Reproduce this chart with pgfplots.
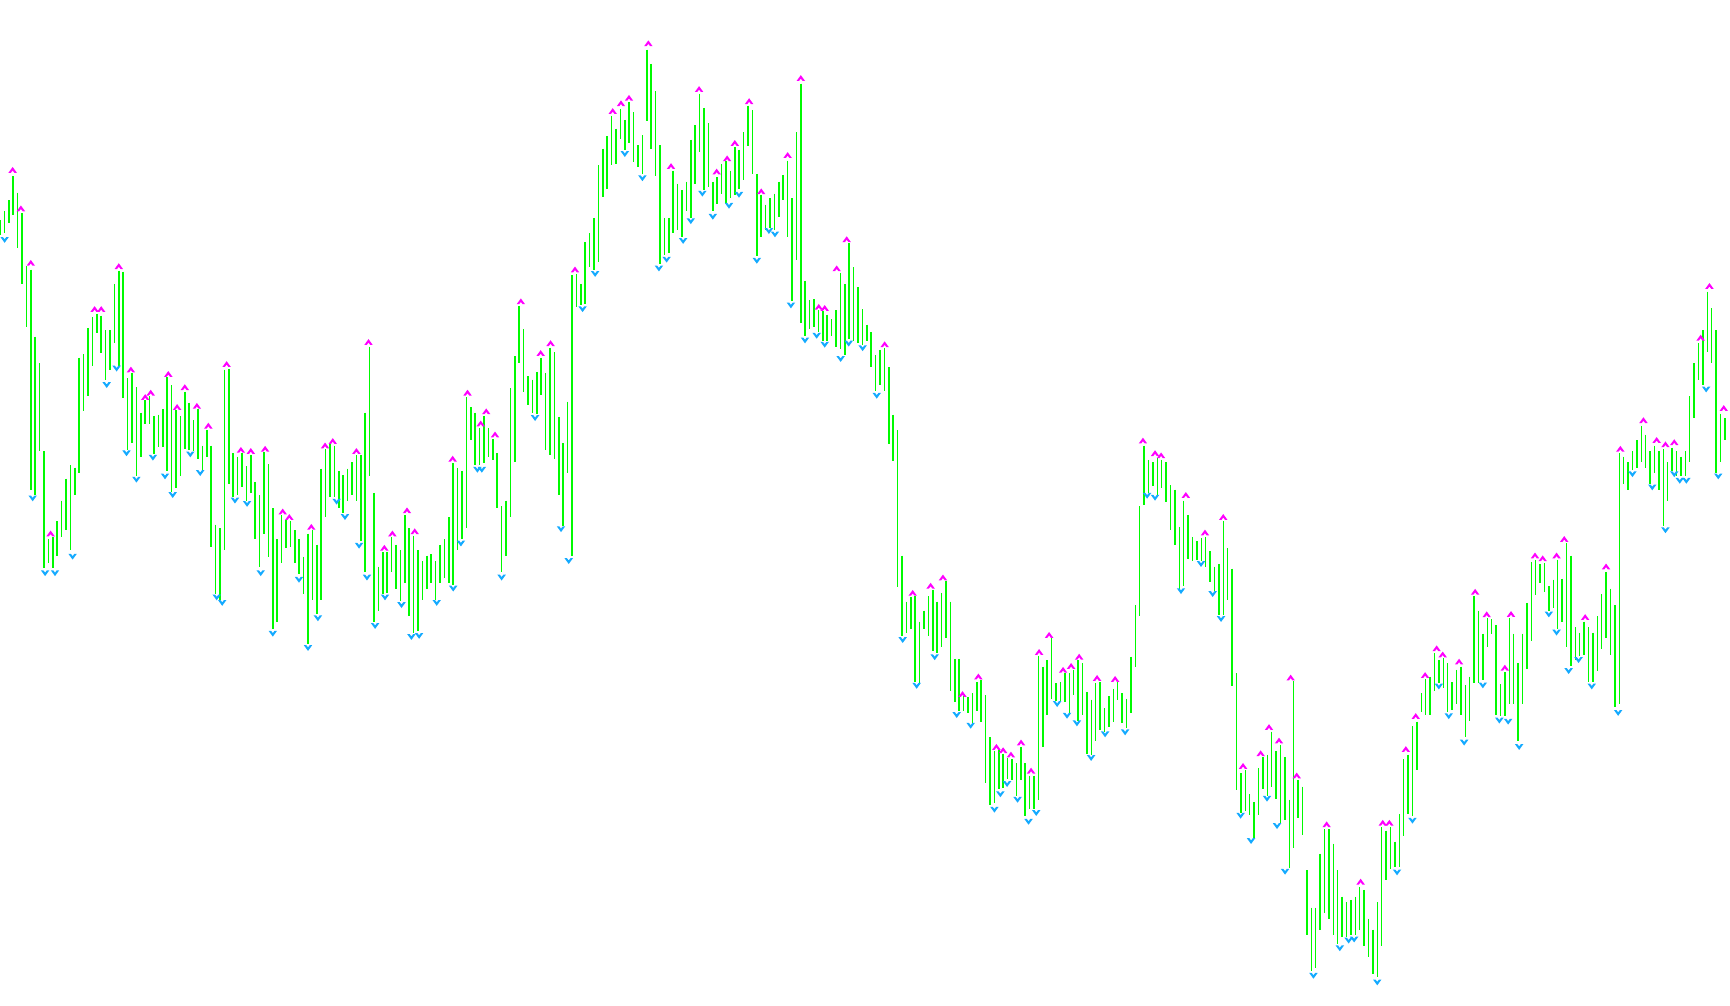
\documentclass[border=0pt]{standalone}
\usepackage{pgfplots}
\usepackage{pgfplotstable}
\pgfplotsset{compat=1.18}
\definecolor{barg}{RGB}{0,250,0}
\definecolor{fm}{RGB}{255,0,255}
\definecolor{fb}{RGB}{20,170,255}
\pgfdeclareplotmark{fup}{%
  \pgfpathmoveto{\pgfpoint{-1.2pt}{-0.8pt}}%
  \pgfpathlineto{\pgfpoint{0pt}{0.85pt}}%
  \pgfpathlineto{\pgfpoint{1.2pt}{-0.8pt}}%
  \pgfpathlineto{\pgfpoint{0.5pt}{-0.8pt}}%
  \pgfpathlineto{\pgfpoint{0pt}{-0.15pt}}%
  \pgfpathlineto{\pgfpoint{-0.5pt}{-0.8pt}}%
  \pgfpathclose\pgfusepathqfill}
\pgfdeclareplotmark{fdn}{%
  \pgfpathmoveto{\pgfpoint{-1.2pt}{0.8pt}}%
  \pgfpathlineto{\pgfpoint{0pt}{-0.85pt}}%
  \pgfpathlineto{\pgfpoint{1.2pt}{0.8pt}}%
  \pgfpathlineto{\pgfpoint{0.5pt}{0.8pt}}%
  \pgfpathlineto{\pgfpoint{0pt}{0.15pt}}%
  \pgfpathlineto{\pgfpoint{-0.5pt}{0.8pt}}%
  \pgfpathclose\pgfusepathqfill}
\pgfplotstableread[row sep=\\]{
h l\\
200 214\\192 212\\182 203\\160 195\\175 225\\194 258\\242 297\\245 445\\306 450\\330 410\\
410 516\\490 512\\488 516\\474 505\\455 488\\435 482\\423 500\\425 450\\325 430\\322 374\\
298 360\\288 333\\285 303\\287 321\\300 345\\300 336\\258 312\\246 333\\247 362\\344 409\\
339 403\\352 433\\375 415\\364 385\\360 385\\378 413\\377 406\\372 406\\343 428\\350 447\\
373 444\\378 433\\356 408\\366 409\\382 410\\372 417\\405 427\\391 415\\405 497\\477 540\\
480 545\\336 500\\335 440\\412 452\\415 450\\412 443\\424 455\\414 448\\438 490\\450 515\\
411 485\\422 506\\462 572\\490 565\\468 512\\473 498\\474 497\\482 512\\490 522\\506 540\\
485 585\\482 545\\495 558\\426 545\\408 470\\404 452\\405 452\\428 462\\432 466\\426 455\\
420 450\\414 455\\414 492\\375 520\\315 433\\448 565\\515 555\\502 540\\502 539\\488 520\\
495 535\\500 546\\468 530\\480 560\\487 575\\500 574\\510 545\\505 535\\504 530\\510 545\\
495 530\\490 525\\470 530\\421 532\\425 500\\428 490\\361 480\\370 400\\375 423\\389 423\\
378 421\\389 415\\399 418\\412 462\\460 520\\455 505\\353 470\\324 420\\278 330\\299 356\\
342 368\\345 375\\338 376\\325 359\\339 409\\316 414\\320 417\\379 450\\403 478\\365 430\\
250 505\\249 279\\258 277\\220 276\\212 243\\198 245\\150 238\\135 179\\124 172\\105 150\\
117 149\\99 126\\109 136\\93 130\\102 147\\132 152\\123 158\\45 110\\58 135\\83 160\\
132 240\\198 232\\198 230\\155 212\\167 209\\173 215\\165 192\\127 198\\114 167\\85 138\\
98 173\\112 170\\165 192\\161 185\\149 176\\146 185\\155 180\\134 177\\136 172\\120 164\\
96 133\\100 158\\158 233\\177 215\\186 209\\180 207\\176 209\\165 197\\159 182\\146 215\\
180 274\\120 236\\76 294\\255 305\\273 299\\272 297\\282 302\\283 310\\286 310\\290 305\\
282 315\\248 317\\258 323\\221 308\\243 310\\261 312\\281 314\\295 310\\302 334\\323 355\\
318 350\\316 355\\334 404\\377 419\\391 534\\505 578\\547 575\\543 572\\542 620\\565 621\\
555 572\\542 578\\536 592\\547 594\\539 588\\528 580\\547 628\\599 638\\599 646\\633 646\\
634 648\\630 657\\620 646\\618 656\\632 712\\670 732\\683 730\\682 717\\685 716\\689 708\\
690 709\\694 724\\679 709\\694 742\\705 735\\705 735\\596 727\\606 679\\600 650\\580 635\\
621 637\\620 638\\612 638\\612 648\\609 632\\600 655\\603 650\\629 685\\636 686\\621 674\\
620 664\\644 665\\633 661\\626 656\\620 636\\630 657\\635 662\\597 648\\550 606\\460 560\\
405 459\\418 448\\420 442\\416 450\\418 444\\420 456\\441 482\\445 495\\479 535\\455 533\\
468 508\\488 510\\492 509\\489 510\\488 515\\501 529\\515 537\\513 559\\474 559\\498 545\\
517 624\\612 718\\703 739\\700 737\\722 741\\729 762\\698 741\\688 717\\686 724\\665 715\\
683 726\\677 748\\688 745\\727 789\\619 771\\709 744\\715 759\\791 850\\825 883\\825 880\\
776 845\\754 830\\754 835\\767 850\\791 858\\815 852\\820 852\\818 850\\815 850\\806 845\\
809 860\\835 870\\845 885\\820 888\\752 860\\755 800\\752 790\\765 788\\740 788\\690 760\\
686 740\\660 742\\656 700\\630 647\\617 650\\615 650\\594 628\\600 621\\598 625\\603 647\\
620 645\\609 640\\606 650\\623 670\\615 655\\542 621\\555 621\\576 618\\562 588\\563 576\\
568 650\\622 651\\611 651\\562 640\\576 640\\603 674\\576 640\\548 608\\511 583\\509 541\\
513 530\\512 538\\533 555\\527 553\\509 572\\526 565\\494 588\\505 605\\570 600\\575 596\\
565 595\\570 620\\575 620\\560 610\\540 590\\520 580\\535 595\\550 643\\412 640\\415 440\\
420 445\\410 427\\400 425\\387 420\\395 425\\410 440\\405 430\\410 445\\408 478\\420 455\\
407 428\\410 433\\415 433\\410 433\\360 420\\330 380\\312 345\\300 350\\265 320\\280 330\\
300 430\\376 420\\380 400\\
}\bars
\begin{document}
\begin{tikzpicture}
\fill[white] (0,0) rectangle (17.3cm,10.05cm);
\begin{axis}[at={(0,0)}, anchor=south west,
  width=17.3cm, height=10.05cm, scale only axis,
  xmin=0, xmax=1572.7, ymin=0, ymax=913.6, y dir=reverse,
  hide axis, clip=false]
\addplot[draw=none, mark=none,
  error bars/.cd, y dir=plus, y explicit, error mark=none,
  error bar style={draw=barg, solid, line width=0.42pt}]
  table[x expr=\coordindex*4, y=h, y error expr=\thisrow{l}-\thisrow{h}] {\bars};
\addplot[only marks, mark=fup, color=fm, fill=fm] coordinates {
(11.5,154.5) (19,189.5) (28,239) (46,485) (86,281) (92,281) (108,242) (119,336)
(132,361) (137,357) (153,340) (161,370) (168,352) (179,369) (189.4,387) (206,331)
(219,409) (228,410) (241,408) (257,465) (263,470) (283,479) (295.5,405) (302.5,401)
(324,410) (335,311) (349.4,498) (356.7,485) (370,464) (377,483) (411.5,417) (425,357)
(437,385) (442,374) (450,395) (473.5,274) (491.5,321) (500.5,312) (522.7,245)
(557,101) (564.5,94) (571.8,89) (589.4,39.4) (610,151) (635.5,81) (651.5,156)
(661,144) (668,130) (681,92) (692,174) (716,141) (728,71) (744.3,279) (749.7,280)
(760.6,244) (769.7,217.5) (804.2,313) (829.7,539) (846,532.5) (857.2,525) (875,631)
(889.4,615) (905.8,679) (911.9,682) (919,686) (928.2,675) (937.3,700.6) (944.6,592.7)
(953.7,577.2) (966.4,609) (973.7,605.4) (981,597) (997.3,616.3) (1013.7,617.2)
(1039,400.6) (1050,412) (1055.5,414) (1078,450) (1095.4,484.2) (1112,470)
(1130,696.3) (1146,684.8) (1153.6,661) (1162.7,673.3) (1173.3,616) (1178.8,705)
(1206,749.4) (1236.9,801.5) (1257,748) (1263,748) (1278,681) (1287,651)
(1295.5,613.7) (1306,589.4) (1311.5,595) (1326.4,601.5) (1341,538) (1351.5,558.5)
(1368,607) (1373.6,558.2) (1395.4,505) (1402.4,507.6) (1415,505) (1422,490)
(1441,561) (1460,515) (1473,408) (1494,382) (1506,400) (1514,404) (1522,402)
(1546,307) (1554,260) (1567,371)
};
\addplot[only marks, mark=fdn, color=fb, fill=fb] coordinates {
(4.2,218) (29.7,453) (41,521) (50,521) (66,506) (97,350) (106,335) (115,412)
(124,436) (139,416) (150,433) (157,450) (173,413) (182,430) (197,543) (202,548)
(213.6,455) (224.6,458) (237,521) (248,576) (271.8,527) (280,589) (289,562)
(306,456) (313.6,470) (326.4,496) (333.6,525) (341,569) (350,543) (365,550)
(374,579) (381,578) (397,548) (412,535) (419,494) (434,427) (438,427) (456,525)
(486.4,380) (510,481) (517,510) (529.6,281) (541,249) (568,140) (584,162) (599,244)
(606,236) (621,219) (628,201) (638.5,176) (648,197) (662.7,187) (671.8,177)
(688,237) (699,210) (704.5,213) (719,277.6) (731.8,309.4) (742.4,305.2)
(749.7,313.3) (764.2,326.3) (771.5,312.3) (784.2,316.5) (797,359.7) (820.6,581.8)
(833.3,623.4) (849.7,597.4) (869.7,650) (882.4,659.7) (904,736) (909.4,722)
(915.5,712.7) (925,727) (935,747) (942,739) (961,640) (970,650.6) (979,657.5)
(991.9,689) (1004.6,667.5) (1022.8,665.7) (1042.8,450.6) (1050,452.4)
(1073.6,537.3) (1091.8,512.7) (1102.4,540) (1110,562.7) (1127.8,741.5)
(1137.3,764.5) (1151.8,726) (1160.9,750.9) (1168.2,792.4) (1194,887) (1218,862)
(1226,855) (1231,854) (1252,893) (1270,793) (1284,746) (1308,624) (1317,651)
(1331,675) (1348,623) (1363,655) (1371,656) (1381,679) (1408,558.5) (1415,575)
(1426,610) (1435,600) (1447,624) (1471,648) (1484,431) (1502,443) (1514,482)
(1522,431) (1527,437) (1533,437) (1551,354) (1562,433)
};
\end{axis}
\pgfresetboundingbox
\useasboundingbox (0,0) rectangle (17.3cm,10.05cm);
\end{tikzpicture}
\end{document}
